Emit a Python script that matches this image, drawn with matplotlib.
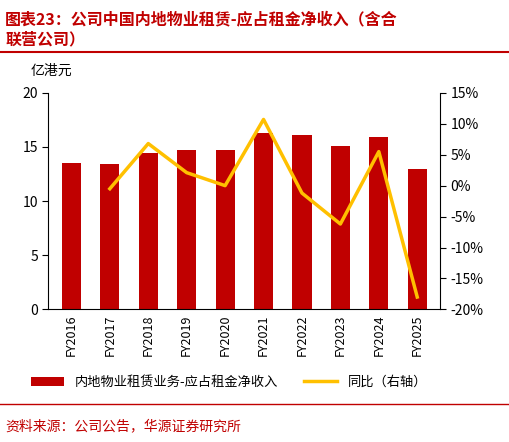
import matplotlib
matplotlib.use("Agg")
import matplotlib.pyplot as plt
from matplotlib.lines import Line2D

plt.rcParams['font.family'] = ['Noto Sans CJK SC', 'DejaVu Sans']

years = ["FY2016","FY2017","FY2018","FY2019","FY2020","FY2021","FY2022","FY2023","FY2024","FY2025"]
income = [13.5, 13.4, 14.4, 14.7, 14.7, 16.3, 16.1, 15.1, 15.9, 13.0]
yoy_years = years[1:]
yoy = [-0.5, 6.8, 2.1, 0.0, 10.7, -1.2, -6.2, 5.5, -18.0]

red = "#C00000"
fig = plt.figure(figsize=(5.09, 4.42), dpi=100)
fig.text(0.01, 0.975, "图表23：公司中国内地物业租赁-应占租金净收入（含合\n联营公司）", color=red,
         fontsize=11.5, fontweight="bold", va="top", ha="left", linespacing=1.3)
fig.add_artist(Line2D([0.0, 1.0], [0.882, 0.882], color=red, lw=1.5))
fig.add_artist(Line2D([0.0, 1.0], [0.085, 0.085], color=red, lw=1.0))
fig.text(0.01, 0.035, "资料来源：公司公告，华源证券研究所", color=red, fontsize=10, va="center")

ax = fig.add_axes([0.095, 0.30, 0.77, 0.49])
x = range(len(years))
ax.bar(x, income, width=0.5, color="#C00000", label="内地物业租赁业务-应占租金净收入")
ax.set_ylim(0, 20)
ax.set_yticks([0, 5, 10, 15, 20])
ax.set_xticks(list(x))
ax.set_xticklabels(years, rotation=90, fontsize=9)
ax.set_xlim(-0.6, len(years) - 0.4)
ax.tick_params(axis='y', labelsize=10, length=4, direction='out')
ax.tick_params(axis='x', length=0)
for s in ["top", "right"]:
    ax.spines[s].set_visible(False)
fig.text(0.06, 0.83, "亿港元", fontsize=10)

ax2 = ax.twinx()
ax2.plot([years.index(y) for y in yoy_years], yoy, color="#FFC000", lw=2.5, label="同比（右轴）")
ax2.set_ylim(-20, 15)
ax2.set_yticks(range(-20, 16, 5))
ax2.set_yticklabels([f"{v}%" for v in range(-20, 16, 5)])
ax2.tick_params(axis='y', labelsize=10, length=4, direction='out')
for s in ["top", "left", "bottom"]:
    ax2.spines[s].set_visible(False)

h1, l1 = ax.get_legend_handles_labels()
h2, l2 = ax2.get_legend_handles_labels()
fig.legend(h1 + h2, l1 + l2, loc="center", bbox_to_anchor=(0.45, 0.135), ncol=2,
           frameon=False, fontsize=9.5, handlelength=2.5, columnspacing=2)
fig.savefig("out.png", dpi=100)
